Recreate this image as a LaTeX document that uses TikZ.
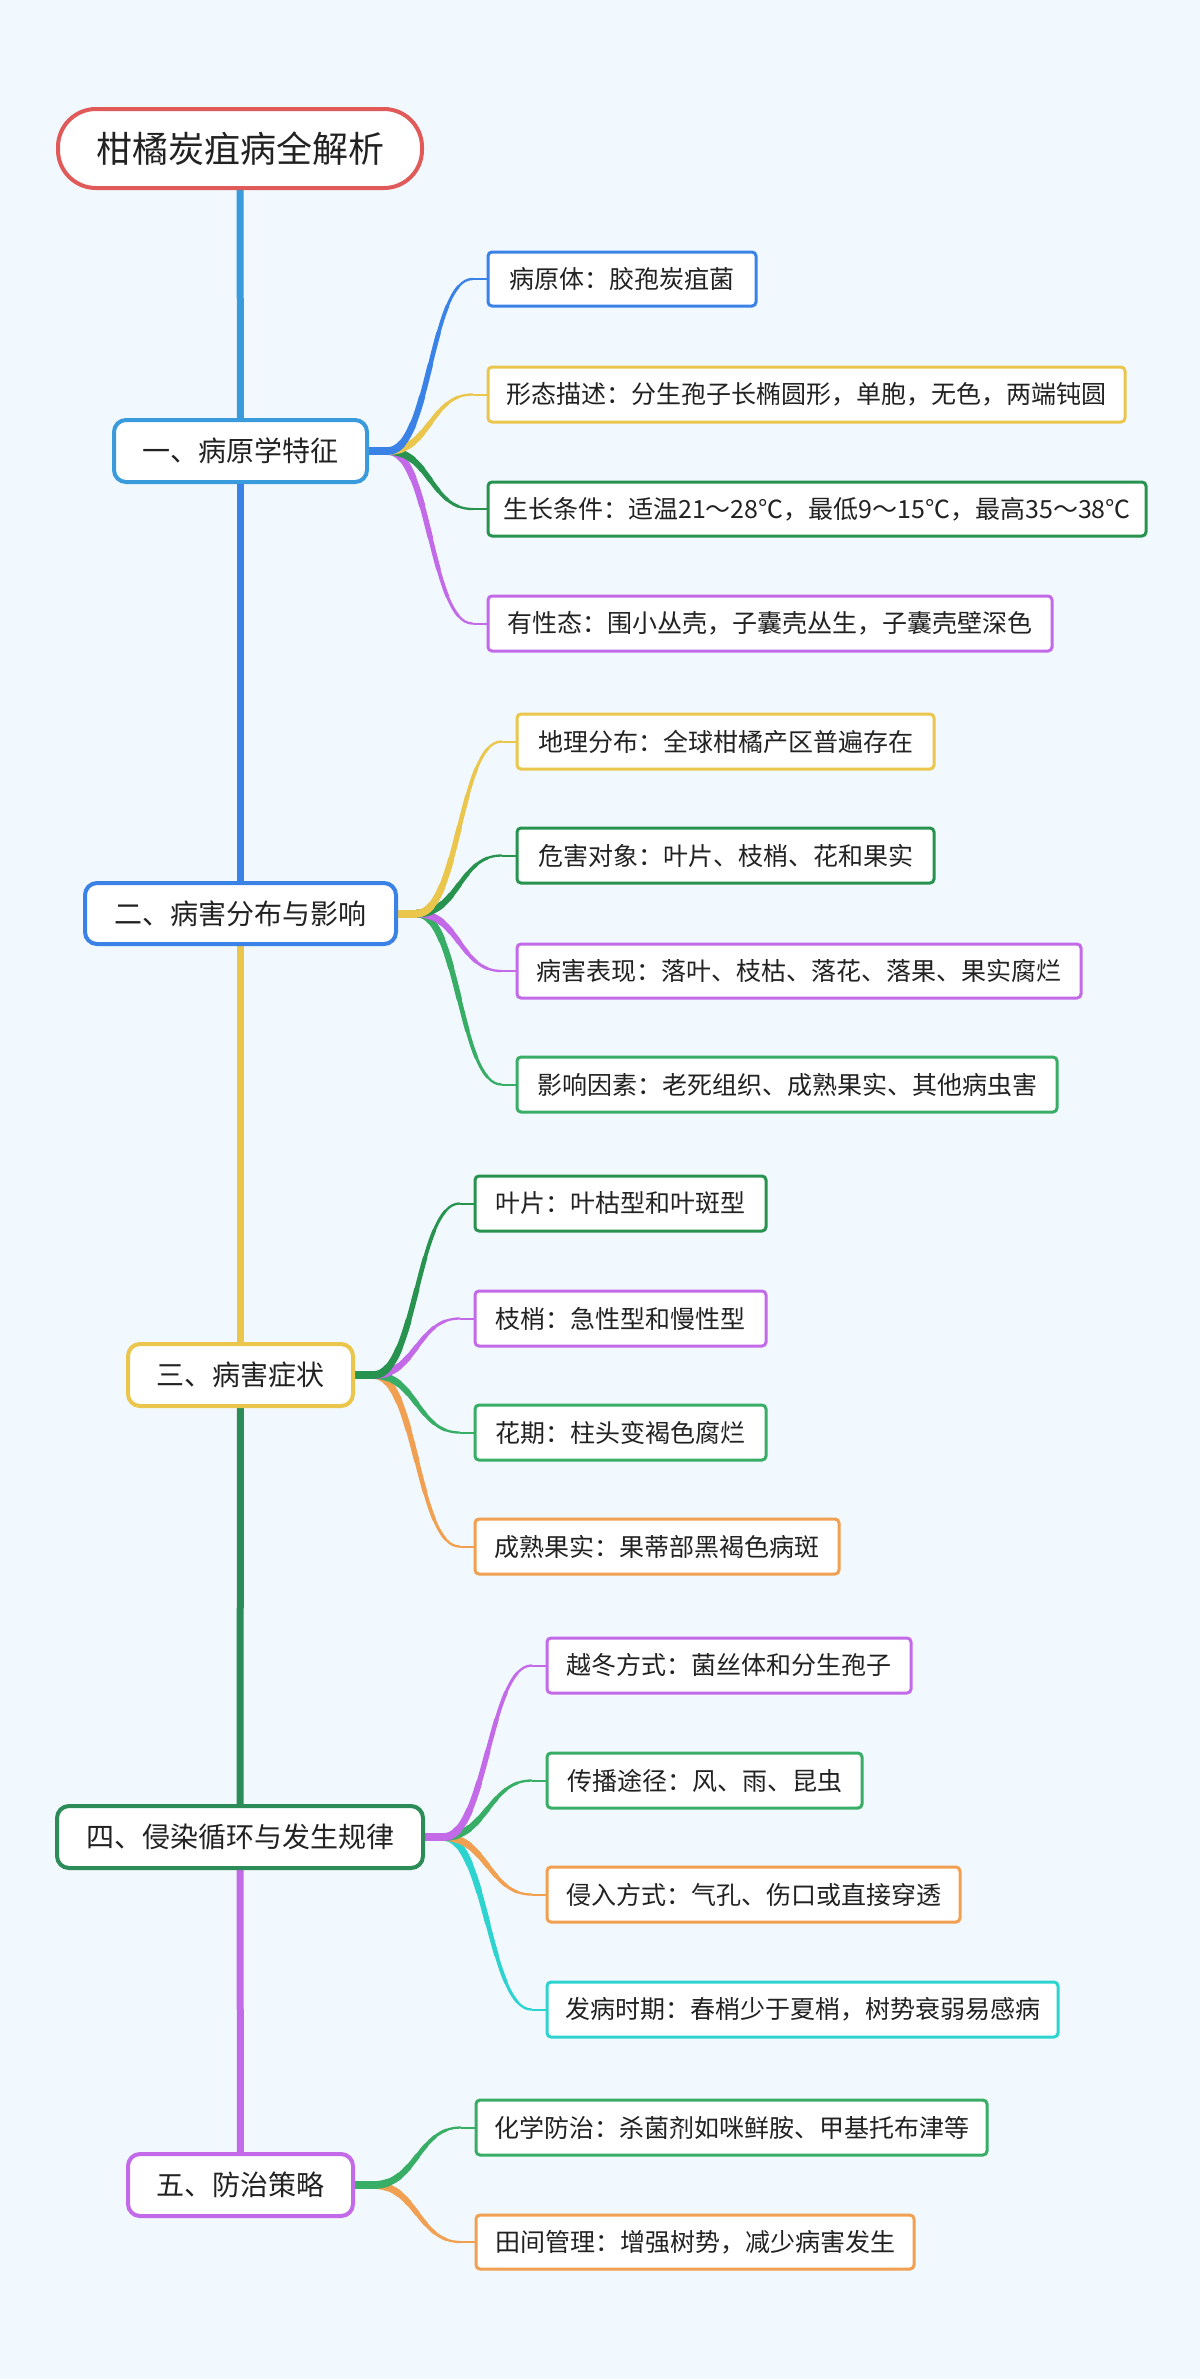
\documentclass[tikz,border=0pt]{standalone}
\usepackage{fontspec}
\setmainfont{Noto Sans CJK SC}
\usetikzlibrary{calc}
\definecolor{bgc}{HTML}{F1F8FE}
\definecolor{txt}{HTML}{222222}
\definecolor{cred}{HTML}{E05A5A}
\definecolor{clblue}{HTML}{3A9BDC}
\definecolor{cblue}{HTML}{3B82E6}
\definecolor{cyel}{HTML}{EAC64C}
\definecolor{ctrunkgreen}{HTML}{2B8C58}
\definecolor{cdkgreen}{HTML}{28924F}
\definecolor{cgreen}{HTML}{38AD66}
\definecolor{cpurple}{HTML}{C26AE8}
\definecolor{corange}{HTML}{F0A050}
\definecolor{ccyan}{HTML}{2DD4CF}
\pgfdeclarelayer{back}
\pgfdeclarelayer{bg}
\pgfsetlayers{back,bg,main}
\tikzset{
  titlebox/.style={draw, fill=white, rounded corners=19pt, line width=2pt, inner sep=0pt, text=txt, font=\fontsize{18pt}{22pt}\selectfont},
  mainbox/.style={draw, fill=white, rounded corners=6pt, line width=2pt, inner sep=0pt, text=txt, font=\fontsize{14pt}{17pt}\selectfont},
  childbox/.style={draw, fill=white, rounded corners=2pt, line width=1.5pt, inner sep=0pt, text=txt, font=\fontsize{12.5pt}{15pt}\selectfont},
  trunkline/.style={line width=3.5pt}
}
\newcommand\mmbox[8]{%
  \node[#2, draw=#3, minimum width={(#6-#4)*0.5pt}, minimum height={(#7-#5)*0.5pt}] (#1) at ({(#4+#6)/2},{(#5+#7)/2}) {#8};}
\newcommand\mmbranch[3]{%
  \coordinate (bA) at ($(#1.east)+(19,0)$);
  \coordinate (bD) at ($(#2.west)+(-14,0)$);
  \coordinate (bB) at ($(bA)+(42,0)$);
  \coordinate (bC) at ($(bD)+(-42,0)$);
  \draw[#3, line width=4pt] ($(#1.east)+(-4,0)$) -- (bA);
  \draw[#3, line width=1pt] (bD) -- (#2.west);
  \foreach \ta/\tb/\w in {0/0.125/3.9pt,0.125/0.25/3.5pt,0.25/0.375/3.1pt,0.375/0.5/2.7pt,0.5/0.625/2.3pt,0.625/0.75/1.9pt,0.75/0.875/1.5pt,0.875/1/1.15pt}{%
    \begin{pgfscope}
    \pgfsetlinewidth{\w}\pgfsetstrokecolor{#3}\pgfsetroundcap
    \pgfpathcurvebetweentime{\ta}{\tb}{\pgfpointanchor{bA}{center}}{\pgfpointanchor{bB}{center}}{\pgfpointanchor{bC}{center}}{\pgfpointanchor{bD}{center}}%
    \pgfusepath{stroke}
    \end{pgfscope}}%
}
\begin{document}
\begin{tikzpicture}[x=0.5pt,y=-0.5pt]
\begin{pgfonlayer}{back}
\fill[bgc] (0,0) rectangle (1200,2379);
\end{pgfonlayer}
\useasboundingbox (0,0) rectangle (1200,2379);

% main nodes
\mmbox{title}{titlebox}{cred}{58}{109}{422}{188}{柑橘炭疽病全解析}
\mmbox{n1}{mainbox}{clblue}{114}{420}{367}{482}{一、病原学特征}
\mmbox{n2}{mainbox}{cblue}{85}{883}{396}{944}{二、病害分布与影响}
\mmbox{n3}{mainbox}{cyel}{128}{1344}{353}{1406}{三、病害症状}
\mmbox{n4}{mainbox}{ctrunkgreen}{57}{1806}{423}{1868}{四、侵染循环与发生规律}
\mmbox{n5}{mainbox}{cpurple}{128}{2154}{353}{2216}{五、防治策略}

% children
\mmbox{c11}{childbox}{cblue}{488}{252}{756}{306}{病原体：胶孢炭疽菌}
\mmbox{c12}{childbox}{cyel}{488}{367}{1125}{422}{形态描述：分生孢子长椭圆形，单胞，无色，两端钝圆}
\mmbox{c13}{childbox}{cdkgreen}{488}{482}{1146}{536}{生长条件：适温21～28℃，最低9～15℃，最高35～38℃}
\mmbox{c14}{childbox}{cpurple}{488}{596}{1052}{651}{有性态：围小丛壳，子囊壳丛生，子囊壳壁深色}

\mmbox{c21}{childbox}{cyel}{517}{714}{934}{769}{地理分布：全球柑橘产区普遍存在}
\mmbox{c22}{childbox}{cdkgreen}{517}{828}{934}{883}{危害对象：叶片、枝梢、花和果实}
\mmbox{c23}{childbox}{cpurple}{517}{944}{1081}{998}{病害表现：落叶、枝枯、落花、落果、果实腐烂}
\mmbox{c24}{childbox}{cgreen}{517}{1057}{1057}{1112}{影响因素：老死组织、成熟果实、其他病虫害}

\mmbox{c31}{childbox}{cdkgreen}{475}{1176}{766}{1231}{叶片：叶枯型和叶斑型}
\mmbox{c32}{childbox}{cpurple}{475}{1291}{766}{1346}{枝梢：急性型和慢性型}
\mmbox{c33}{childbox}{cgreen}{475}{1405}{766}{1460}{花期：柱头变褐色腐烂}
\mmbox{c34}{childbox}{corange}{475}{1519}{839}{1574}{成熟果实：果蒂部黑褐色病斑}

\mmbox{c41}{childbox}{cpurple}{547}{1638}{911}{1693}{越冬方式：菌丝体和分生孢子}
\mmbox{c42}{childbox}{cgreen}{547}{1753}{862}{1808}{传播途径：风、雨、昆虫}
\mmbox{c43}{childbox}{corange}{547}{1867}{960}{1922}{侵入方式：气孔、伤口或直接穿透}
\mmbox{c44}{childbox}{ccyan}{547}{1982}{1058}{2037}{发病时期：春梢少于夏梢，树势衰弱易感病}

\mmbox{c51}{childbox}{cgreen}{476}{2100}{987}{2155}{化学防治：杀菌剂如咪鲜胺、甲基托布津等}
\mmbox{c52}{childbox}{corange}{476}{2215}{914}{2269}{田间管理：增强树势，减少病害发生}

\begin{pgfonlayer}{bg}
% trunk
\draw[trunkline, clblue] (title.center) -- (n1.center);
\draw[trunkline, cblue] (n1.center) -- (n2.center);
\draw[trunkline, cyel] (n2.center) -- (n3.center);
\draw[trunkline, ctrunkgreen] (n3.center) -- (n4.center);
\draw[trunkline, cpurple] (n4.center) -- (n5.center);
% branches (first child drawn last, on top)
\mmbranch{n1}{c14}{cpurple}
\mmbranch{n1}{c13}{cdkgreen}
\mmbranch{n1}{c12}{cyel}
\mmbranch{n1}{c11}{cblue}
\mmbranch{n2}{c24}{cgreen}
\mmbranch{n2}{c23}{cpurple}
\mmbranch{n2}{c22}{cdkgreen}
\mmbranch{n2}{c21}{cyel}
\mmbranch{n3}{c34}{corange}
\mmbranch{n3}{c33}{cgreen}
\mmbranch{n3}{c32}{cpurple}
\mmbranch{n3}{c31}{cdkgreen}
\mmbranch{n4}{c44}{ccyan}
\mmbranch{n4}{c43}{corange}
\mmbranch{n4}{c42}{cgreen}
\mmbranch{n4}{c41}{cpurple}
\mmbranch{n5}{c52}{corange}
\mmbranch{n5}{c51}{cgreen}
\end{pgfonlayer}
\end{tikzpicture}
\end{document}
